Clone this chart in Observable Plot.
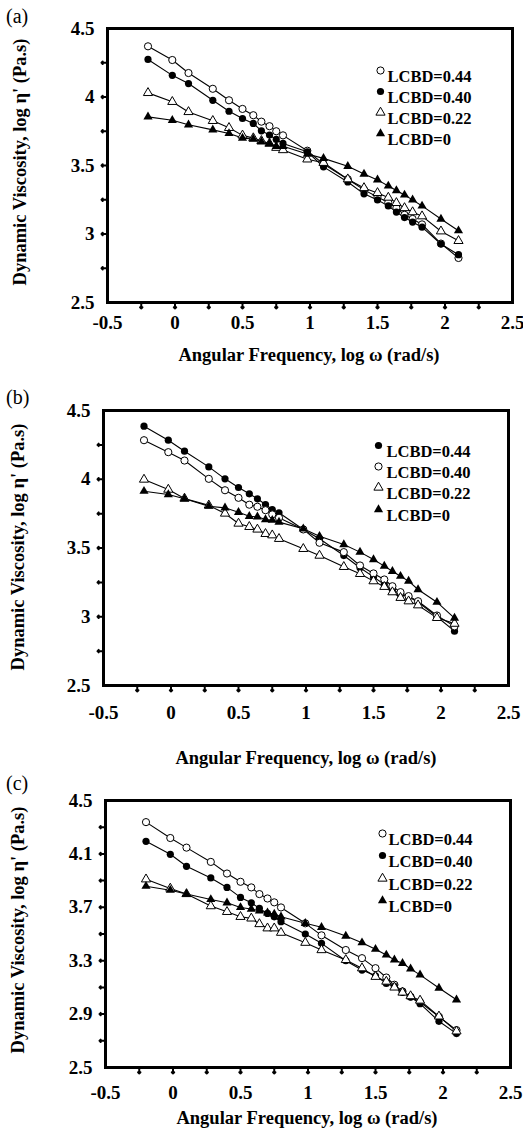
<!DOCTYPE html>
<html><head><meta charset="utf-8">
<script src="https://cdn.jsdelivr.net/npm/d3@7"></script>
<script src="https://cdn.jsdelivr.net/npm/@observablehq/plot@0.6"></script>
<style>
body{margin:0;background:#fff;}
#wrap{position:relative;width:523px;height:1139px;font-family:"Liberation Serif","Times New Roman",serif;color:#000;}
.panel{position:absolute;left:0;}
svg.panel, svg.panel text{font-family:"Liberation Serif","Times New Roman",serif !important;}
.plabel{position:absolute;left:6px;font-size:20px;transform:translateY(-50%);}
.xt{position:absolute;font-weight:bold;font-size:18.5px;white-space:nowrap;transform:translate(-50%,-50%);}
.yt{position:absolute;font-weight:bold;font-size:18.5px;white-space:nowrap;transform:translate(-50%,-50%) rotate(-90deg);}
</style></head><body><div id="wrap"></div>
<script>
// ---- data ----
const freq = [-0.20, -0.02, 0.10, 0.28, 0.40, 0.50, 0.58, 0.64, 0.70, 0.75, 0.80, 0.98, 1.10, 1.28, 1.40, 1.50, 1.58, 1.64, 1.70, 1.76, 1.83, 1.97, 2.10];

const a044 = [4.37, 4.27, 4.175, 4.06, 3.976, 3.913, 3.867, 3.82, 3.787, 3.75, 3.72, 3.608, 3.51, 3.40, 3.322, 3.27, 3.23, 3.19, 3.14, 3.11, 3.07, 2.93, 2.825];
const a040 = [4.274, 4.158, 4.098, 3.976, 3.896, 3.843, 3.807, 3.753, 3.722, 3.69, 3.661, 3.60, 3.49, 3.38, 3.293, 3.249, 3.205, 3.16, 3.12, 3.087, 3.05, 2.927, 2.849];
const a022 = [4.03, 3.965, 3.891, 3.826, 3.775, 3.72, 3.70, 3.68, 3.66, 3.63, 3.613, 3.545, 3.52, 3.40, 3.336, 3.30, 3.266, 3.227, 3.19, 3.16, 3.13, 3.02, 2.95];
const a000 = [3.855, 3.83, 3.797, 3.76, 3.734, 3.70, 3.693, 3.673, 3.66, 3.64, 3.64, 3.584, 3.552, 3.494, 3.438, 3.395, 3.351, 3.317, 3.285, 3.249, 3.205, 3.109, 3.024];

const b044 = [4.386, 4.284, 4.204, 4.09, 4.003, 3.94, 3.894, 3.858, 3.816, 3.78, 3.756, 3.635, 3.567, 3.445, 3.356, 3.29, 3.235, 3.198, 3.162, 3.145, 3.106, 3.0, 2.895];
const b040 = [4.284, 4.197, 4.136, 4.003, 3.92, 3.865, 3.815, 3.80, 3.775, 3.744, 3.72, 3.635, 3.538, 3.47, 3.373, 3.315, 3.271, 3.222, 3.179, 3.15, 3.113, 3.009, 2.93];
const b022 = [3.998, 3.925, 3.86, 3.81, 3.751, 3.678, 3.654, 3.635, 3.603, 3.593, 3.567, 3.494, 3.445, 3.363, 3.312, 3.259, 3.218, 3.179, 3.138, 3.113, 3.084, 2.992, 2.95];
const b000 = [3.913, 3.889, 3.858, 3.804, 3.792, 3.76, 3.731, 3.727, 3.707, 3.702, 3.688, 3.64, 3.586, 3.525, 3.47, 3.416, 3.368, 3.331, 3.295, 3.259, 3.198, 3.106, 2.99];

const c044 = [4.338, 4.219, 4.147, 4.04, 3.953, 3.891, 3.849, 3.799, 3.766, 3.737, 3.699, 3.58, 3.49, 3.38, 3.319, 3.244, 3.174, 3.12, 3.07, 3.03, 2.99, 2.88, 2.78];
const c040 = [4.194, 4.097, 4.007, 3.92, 3.849, 3.774, 3.734, 3.692, 3.654, 3.629, 3.592, 3.5, 3.43, 3.3, 3.23, 3.187, 3.13, 3.107, 3.062, 3.028, 2.978, 2.846, 2.754];
const c022 = [3.91, 3.841, 3.80, 3.709, 3.666, 3.629, 3.617, 3.575, 3.543, 3.543, 3.51, 3.435, 3.38, 3.306, 3.244, 3.18, 3.144, 3.1, 3.062, 3.035, 3.002, 2.883, 2.771];
const c000 = [3.858, 3.828, 3.799, 3.759, 3.734, 3.699, 3.687, 3.674, 3.659, 3.649, 3.629, 3.58, 3.55, 3.485, 3.435, 3.386, 3.343, 3.306, 3.281, 3.239, 3.194, 3.095, 3.007];

const seriesNames = ["LCBD=0.44", "LCBD=0.40", "LCBD=0.22", "LCBD=0"];
const xLabelTicks = [-0.5, 0, 0.5, 1, 1.5, 2, 2.5];
const xMinorTicks = [-0.25, 0, 0.25, 0.5, 0.75, 1, 1.25, 1.5, 1.75, 2, 2.25];
const yLabelTicksAB = [2.5, 3, 3.5, 4, 4.5];
const yMinorTicksAB = [2.75, 3, 3.25, 3.5, 3.75, 4, 4.25];
const yLabelTicksC = [2.5, 2.9, 3.3, 3.7, 4.1, 4.5];
const yMinorTicksC = [2.7, 2.9, 3.1, 3.3, 3.5, 3.7, 3.9, 4.1, 4.3];
const xTitle = "Angular Frequency, log \u03c9 (rad/s)";
const yTitle = "Dynamic Viscosity, log \u03b7' (Pa.s)";

// marker styles: open circle, filled circle, open triangle, filled triangle
const OPEN_C = {symbol: "circle", fill: "white"};
const FILL_C = {symbol: "circle", fill: "black"};
const OPEN_T = {symbol: "triangle", fill: "white"};
const FILL_T = {symbol: "triangle", fill: "black"};

const panels = [
  {label: "(a)", top: 0, height: 340, ml: 107, mr: 11, mt: 28, mb: 38, xPad: 13,
   yTicks: yLabelTicksAB, yMinor: yMinorTicksAB,
   series: [[a044, OPEN_C], [a040, FILL_C], [a022, OPEN_T], [a000, FILL_T]],
   legDx: -132, legTextDx: -125, legDy: [42, 63, 84, 105],
   labelY: 16, xtX: 309, xtY: 355, ytX: 20, ytY: 162},
  {label: "(b)", top: 382, height: 340, ml: 103, mr: 15, mt: 28, mb: 37, xPad: 20,
   yTicks: yLabelTicksAB, yMinor: yMinorTicksAB,
   series: [[b044, FILL_C], [b040, OPEN_C], [b022, OPEN_T], [b000, FILL_T]],
   legDx: -130, legTextDx: -122, legDy: [35, 56, 77, 99],
   labelY: 397, xtX: 306, xtY: 758, ytX: 18, ytY: 547},
  {label: "(c)", top: 772, height: 330, ml: 105, mr: 13, mt: 28, mb: 35, xPad: 18,
   yTicks: yLabelTicksC, yMinor: yMinorTicksC,
   series: [[c044, OPEN_C], [c040, FILL_C], [c022, OPEN_T], [c000, FILL_T]],
   legDx: -128, legTextDx: -122, legDy: [33, 55, 78, 100],
   labelY: 783, xtX: 307, xtY: 1118, ytX: 18, ytY: 930}
];

const wrap = document.getElementById("wrap");

function rVal(st) { return st.symbol === "circle" ? 3.6 : 3.4; }

for (const p of panels) {
  const lineMarks = [];
  const dotMarks = [];
  const legendMarks = [];
  p.series.forEach(([vals, st], i) => {
    const rows = freq.map((x, j) => ({x, y: vals[j]}));
    lineMarks.push(Plot.line(rows, {x: "x", y: "y", stroke: "black", strokeWidth: 1.1}));
    dotMarks.push(Plot.dot(rows, {x: "x", y: "y", symbol: st.symbol, r: rVal(st), fill: st.fill, stroke: "black", strokeWidth: st.fill === "white" ? 1 : 0}));
    legendMarks.push(Plot.dot([seriesNames[i]], {frameAnchor: "top-right", dx: p.legDx, dy: p.legDy[i], symbol: st.symbol, r: rVal(st), fill: st.fill, stroke: "black", strokeWidth: st.fill === "white" ? 1 : 0}));
    legendMarks.push(Plot.text([seriesNames[i]], {frameAnchor: "top-right", dx: p.legTextDx, dy: p.legDy[i], text: d => d, textAnchor: "start", fontSize: 16.5, fontWeight: "bold", fill: "black"}));
  });

  const chart = Plot.plot({
    width: 523, height: p.height,
    marginLeft: p.ml, marginRight: p.mr, marginTop: p.mt, marginBottom: p.mb,
    x: {domain: [-0.5, 2.5]},
    y: {domain: [2.5, 4.5]},
    style: {fontSize: "19px", fontWeight: "bold", background: "white", color: "black", overflow: "visible"},
    marks: [
      // inward tick marks along the bottom and left edges
      Plot.vector(xMinorTicks, {x: d => d, frameAnchor: "bottom", length: 6, rotate: 180, anchor: "start", stroke: "black", strokeWidth: 2}),
      Plot.vector(p.yMinor, {y: d => d, frameAnchor: "left", length: 6, rotate: 270, anchor: "start", stroke: "black", strokeWidth: 2}),
      Plot.axisX(xLabelTicks, {anchor: "bottom", tickSize: 0, tickPadding: p.xPad, tickFormat: d => String(d), label: null}),
      Plot.axisY(p.yTicks, {anchor: "left", tickSize: 0, tickPadding: 13, tickFormat: d => String(d), label: null}),
      Plot.frame({stroke: "black", strokeWidth: 3}),
      ...lineMarks,
      ...dotMarks,
      ...legendMarks
    ]
  });
  chart.classList.add("panel");
  chart.style.top = p.top + "px";
  wrap.appendChild(chart);

  const pl = document.createElement("div");
  pl.className = "plabel"; pl.style.top = p.labelY + "px"; pl.textContent = p.label;
  wrap.appendChild(pl);

  const xt = document.createElement("div");
  xt.className = "xt"; xt.style.left = p.xtX + "px"; xt.style.top = p.xtY + "px"; xt.textContent = xTitle;
  wrap.appendChild(xt);

  const yt = document.createElement("div");
  yt.className = "yt"; yt.style.left = p.ytX + "px"; yt.style.top = p.ytY + "px"; yt.textContent = yTitle;
  wrap.appendChild(yt);
}
</script>
</body></html>
